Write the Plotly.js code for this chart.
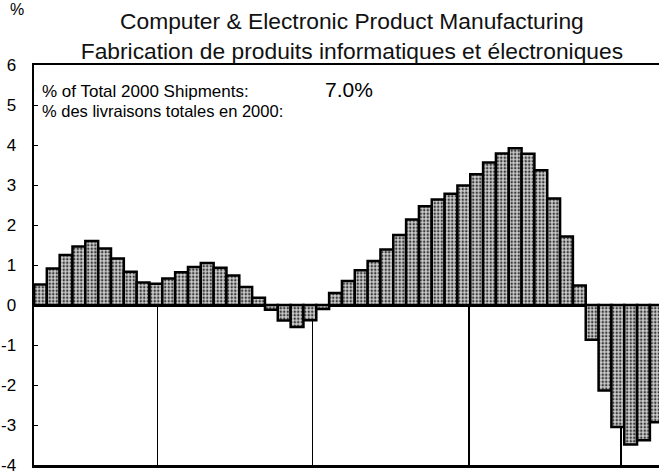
<!DOCTYPE html>
<html>
<head>
<meta charset="utf-8">
<script src="https://cdn.plot.ly/plotly-3.0.1.min.js"></script>
<style>
  html, body { margin: 0; padding: 0; background: #fff; }
  #chart { width: 659px; height: 474px; }
</style>
</head>
<body>
<div id="chart"></div>
<script>
// Period index of each bar (monthly sequence)
const periods = [1,2,3,4,5,6,7,8,9,10,11,12,13,14,15,16,17,18,19,20,21,22,23,24,25,
                 26,27,28,29,30,31,32,33,34,35,36,37,38,39,40,41,42,43,44,45,46,47,48,49];
// % change values
const values = [0.51, 0.91, 1.25, 1.46, 1.60, 1.41, 1.16, 0.83, 0.56, 0.53,
                0.66, 0.82, 0.95, 1.05, 0.93, 0.74, 0.45, 0.18, -0.12, -0.39,
                -0.55, -0.38, -0.10, 0.30, 0.60, 0.87, 1.10, 1.39, 1.75, 2.14,
                2.47, 2.64, 2.78, 2.99, 3.27, 3.56, 3.79, 3.92, 3.78, 3.37,
                2.66, 1.71, 0.49, -0.87, -2.14, -3.05, -3.49, -3.38, -2.93];
// Year boundaries along the period axis
const yearBreaks = [10.1, 22.2, 34.4, 46.25];
const yTicks = [-4, -3, -2, -1, 0, 1, 2, 3, 4, 5, 6];
const yTickLabels = ['-4', '-3', '-2', '-1', '0', '1', '2', '3', '4', '5', '6'];

const titleText = 'Computer & Electronic Product Manufacturing<br>Fabrication de produits informatiques et électroniques';
const shareLabelEn = '% of Total 2000 Shipments:';
const shareLabelFr = '% des livraisons totales en 2000:';
const shareValue = '7.0%';
const unitLabel = '%';

const FONT = 'Liberation Sans, Arial, Helvetica, sans-serif';

const trace = {
  type: 'bar',
  x: periods,
  y: values,
  width: 1,
  marker: {
    color: '#bdbdbd',
    line: { color: '#000', width: 2.5 },
    pattern: { shape: '.', fgcolor: '#3a3a3a', bgcolor: '#cfcfcf', size: 3.5, solidity: 0.4 }
  },
  hoverinfo: 'skip'
};

const layout = {
  width: 659,
  height: 474,
  margin: { l: 34, r: 0, t: 65, b: 9, pad: 0 },
  paper_bgcolor: '#fff',
  plot_bgcolor: '#fff',
  showlegend: false,
  bargap: 0,
  font: { family: FONT, color: '#000' },
  title: {
    text: titleText,
    font: { family: FONT, size: 22.8, color: '#111' },
    xref: 'container', x: 0.534, xanchor: 'center',
    yref: 'container', y: 0.939, yanchor: 'top'
  },
  xaxis: {
    range: [0.5, 49.21],
    showgrid: false,
    zeroline: false,
    showline: true, linecolor: '#000', linewidth: 2.5, mirror: true,
    tickmode: 'array', tickvals: yearBreaks, showticklabels: false,
    ticks: 'inside', ticklen: 160, tickwidth: 1.2, tickcolor: '#000',
    layer: 'below traces',
    fixedrange: true
  },
  yaxis: {
    range: [-4, 6],
    tickmode: 'array', tickvals: yTicks, ticktext: yTickLabels,
    showgrid: false,
    zeroline: true, zerolinecolor: '#000', zerolinewidth: 3,
    showline: true, linecolor: '#000', linewidth: 2.5, mirror: false,
    ticks: 'inside', ticklen: 4, tickwidth: 1, tickcolor: '#000',
    ticklabelstandoff: 12,
    ticklabeloverflow: 'allow',
    tickfont: { family: FONT, size: 17, color: '#000' },
    fixedrange: true
  },
  annotations: [
    { text: unitLabel, xref: 'paper', yref: 'paper', x: -0.042, y: 1.138,
      xanchor: 'left', yanchor: 'middle', showarrow: false,
      font: { family: FONT, size: 16, color: '#000' } },
    { text: shareLabelEn, xref: 'paper', yref: 'paper', x: 0.009, y: 0.934,
      xanchor: 'left', yanchor: 'middle', showarrow: false,
      font: { family: FONT, size: 17, color: '#000' } },
    { text: shareLabelFr, xref: 'paper', yref: 'paper', x: 0.009, y: 0.884,
      xanchor: 'left', yanchor: 'middle', showarrow: false,
      font: { family: FONT, size: 16.5, color: '#000' } },
    { text: shareValue, xref: 'paper', yref: 'paper', x: 0.462, y: 0.939,
      xanchor: 'left', yanchor: 'middle', showarrow: false,
      font: { family: FONT, size: 21, color: '#000' } }
  ]
};

Plotly.newPlot('chart', [trace], layout, { staticPlot: true, displayModeBar: false });
</script>
</body>
</html>
